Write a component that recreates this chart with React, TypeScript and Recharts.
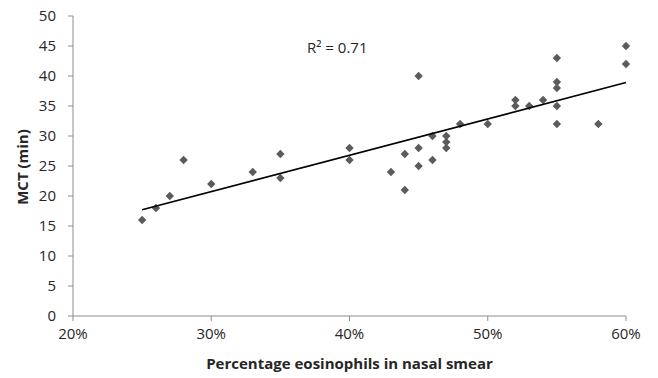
import React from 'react';
import { ScatterChart, Scatter, XAxis, YAxis } from 'recharts';

const eosinophilPct = [25, 26, 27, 28, 30, 33, 35, 35, 40, 40, 43, 44, 44, 45, 45, 45, 46, 46, 47, 47, 47, 48, 50, 52, 52, 53, 54, 55, 55, 55, 55, 55, 58, 60, 60];
const mctMin = [16, 18, 20, 26, 22, 24, 27, 23, 28, 26, 24, 27, 21, 40, 28, 25, 30, 26, 30, 29, 28, 32, 32, 36, 35, 35, 36, 43, 39, 38, 35, 32, 32, 45, 42];
const trendX = [25, 60];
const trendY = [17.7, 38.9];
const xTicks = [20, 30, 40, 50, 60];
const yTicks = [0, 5, 10, 15, 20, 25, 30, 35, 40, 45, 50];

const points = eosinophilPct.map((x, i) => ({ x, y: mctMin[i] }));
const trend = trendX.map((x, i) => ({ x, y: trendY[i] }));

const FONT = '"Open Sans", sans-serif';

const Diamond = (props: any) => {
  const { cx, cy } = props;
  if (cx == null || cy == null) return <g />;
  const r = 4.2;
  return (
    <polygon
      points={`${cx},${cy - r} ${cx + r},${cy} ${cx},${cy + r} ${cx - r},${cy}`}
      fill="#5b5b5b"
    />
  );
};

const Empty = () => <g />;

export default function App() {
  return (
    <div style={{ position: 'relative', width: 650, height: 378, marginTop: -8, marginLeft: -8 }}>
      <ScatterChart width={650} height={378} margin={{ top: 16, right: 24, bottom: 0, left: 0 }}>
        <XAxis
          type="number"
          dataKey="x"
          domain={[20, 60]}
          ticks={xTicks}
          tickFormatter={(v: number) => `${v}%`}
          stroke="#8c8c8c"
          tickSize={5}
          tickMargin={7}
          height={62}
          tick={{ fill: '#262626', fontSize: 15, fontFamily: FONT }}
          label={{
            content: (p: any) => (
              <text
                x={p.viewBox.x + p.viewBox.width / 2}
                y={p.viewBox.y + 53}
                textAnchor="middle"
                fontFamily={FONT}
                fontWeight="bold"
                fontSize={15}
                fill="#262626"
              >
                Percentage eosinophils in nasal smear
              </text>
            ),
          }}
        />
        <YAxis
          type="number"
          dataKey="y"
          domain={[0, 50]}
          ticks={yTicks}
          stroke="#8c8c8c"
          tickSize={5}
          tickMargin={12}
          width={73}
          tick={{ fill: '#262626', fontSize: 15, fontFamily: FONT }}
          label={{
            content: (p: any) => {
              const cx = 22;
              const cy = p.viewBox.y + p.viewBox.height / 2 + 1;
              return (
                <text
                  x={cx}
                  y={cy}
                  transform={`rotate(-90 ${cx} ${cy})`}
                  textAnchor="middle"
                  dominantBaseline="central"
                  fontFamily={FONT}
                  fontWeight="bold"
                  fontSize={15}
                  fill="#262626"
                >
                  MCT (min)
                </text>
              );
            },
          }}
        />
        <Scatter data={points} shape={<Diamond />} isAnimationActive={false} />
        <Scatter
          data={trend}
          line={{ stroke: '#000000', strokeWidth: 1.6 }}
          shape={<Empty />}
          isAnimationActive={false}
        />
      </ScatterChart>
      <div
        style={{
          position: 'absolute',
          left: 307,
          top: 37,
          fontFamily: FONT,
          fontSize: 15,
          color: '#262626',
          whiteSpace: 'nowrap',
        }}
      >
        R² = 0.71
      </div>
    </div>
  );
}
